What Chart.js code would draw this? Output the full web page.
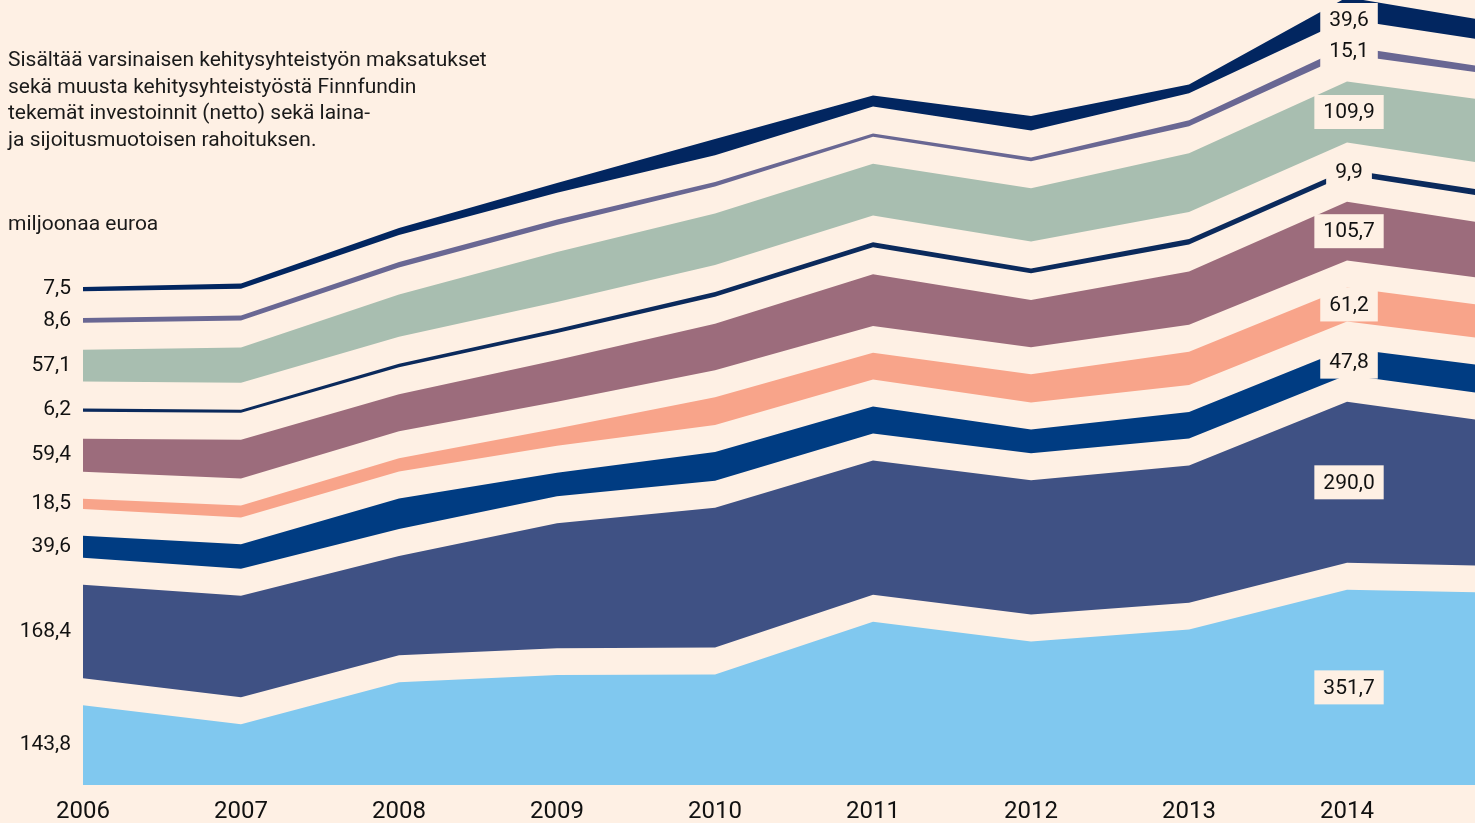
<!DOCTYPE html>
<html lang="fi">
<head>
<meta charset="utf-8">
<script src="https://cdn.jsdelivr.net/npm/chart.js@4.4.1/dist/chart.umd.min.js"></script>
<style>
  html, body { margin: 0; padding: 0; background: #fef0e4; overflow: hidden; }
  #wrap { position: relative; width: 1475px; height: 823px; }
  #chart { position: absolute; left: 0; top: 0; }
  .note {
    position: absolute; left: 8px; margin: 0;
    font-family: Roboto, "Noto Sans", sans-serif; font-size: 21px;
    line-height: 26.5px; color: #1a1a1a; white-space: nowrap;
  }
</style>
</head>
<body>
<div id="wrap">
  <canvas id="chart" width="1475" height="823"></canvas>
  <p class="note" style="top:46px">Sisältää varsinaisen kehitysyhteistyön maksatukset<br>sekä muusta kehitysyhteistyöstä Finnfundin<br>tekemät investoinnit (netto) sekä laina-<br>ja sijoitusmuotoisen rahoituksen.</p>
  <p class="note" style="top:210px">miljoonaa euroa</p>
</div>
<script>
// vuodet (2015 jää kuvan oikean reunan ulkopuolelle)
const YEARS = [2006, 2007, 2008, 2009, 2010, 2011, 2012, 2013, 2014, 2015];
const AXIS_YEARS = [2006, 2007, 2008, 2009, 2010, 2011, 2012, 2013, 2014];

// kerrokset alhaalta ylös, milj. euroa
const S1 = [143.8, 109.5, 185, 198, 199, 294, 258.5, 280, 351.7, 345.9];
const S2 = [168.4, 183, 179, 225, 252, 242, 242, 247, 290.0, 256.4];
const S3 = [39.6, 44, 55, 42.5, 52, 49, 43, 48, 47.8, 51.5];
const S4 = [18.5, 21.5, 24, 31, 50, 48, 51, 60, 61.2, 59.5];
const S5 = [59.4, 70, 67, 75, 84, 93, 85, 96, 105.7, 98.7];
const S6 = [6.2, 5.5, 6.5, 7.5, 8.5, 9, 8.5, 10, 9.9, 11];
const S7 = [57.1, 63.5, 76, 90, 93, 93, 96, 106, 109.9, 114.6];
const S8 = [8.6, 9, 10, 10, 8, 6, 7, 11, 15.1, 10.5];
const S9 = [7.5, 9.5, 13, 17.5, 29, 20, 26, 16, 39.6, 35];

const SERIES = [S1, S2, S3, S4, S5, S6, S7, S8, S9];
const COLORS = ["#80c8ef", "#3f5184", "#003c82", "#f8a48a", "#9c6c7c",
                "#0b2a5c", "#a8beb0", "#696793", "#022660"];

const BG = "#fef0e4";
const GAP = 48.5;       // tyhjä väli kerrosten välissä (samassa yksikössä)
const FONT = "Roboto";

const fmt = v => v.toFixed(1).replace(".", ",");

// pinottu alue, kerrosten väliin läpinäkyvä välikerros
const datasets = [];
SERIES.forEach((vals, i) => {
    if (i > 0) {
        datasets.push({
            data: YEARS.map(x => ({ x: x, y: GAP })),
            isGap: true,
            fill: false,
            borderWidth: 0,
            pointRadius: 0,
        });
    }
    datasets.push({
        data: YEARS.map((x, k) => ({ x: x, y: vals[k] })),
        series: i,
        fill: i === 0 ? "origin" : "-1",
        backgroundColor: COLORS[i],
        borderWidth: 0,
        pointRadius: 0,
    });
});

// arvot vasemmalle (2006) ja laatikoihin (2014)
const bandLabels = {
    id: "bandLabels",
    afterDatasetsDraw(chart) {
        const ctx = chart.ctx;
        const yScale = chart.scales.y;
        ctx.save();
        ctx.font = "21px " + FONT;
        ctx.textBaseline = "middle";
        chart.data.datasets.forEach((ds, di) => {
            if (ds.isGap) return;
            const meta = chart.getDatasetMeta(di);
            const below = di > 0 ? chart.getDatasetMeta(di - 1) : null;
            const vals = SERIES[ds.series];
            const mid = k => {
                const top = meta.data[k].y;
                const bottom = below ? below.data[k].y : yScale.getPixelForValue(0);
                return (top + bottom) / 2;
            };

            // 2006
            ctx.fillStyle = "#111";
            ctx.textAlign = "right";
            ctx.fillText(fmt(vals[0]), 71, mid(0));

            // 2014
            const k = 8;
            const txt = fmt(vals[k]);
            const w = ctx.measureText(txt).width + 18;
            const cx = meta.data[k].x + 2;
            const cy = Math.max(mid(k), 20);
            ctx.fillStyle = BG;
            ctx.fillRect(cx - w / 2, cy - 17, w, 34);
            ctx.fillStyle = "#111";
            ctx.textAlign = "center";
            ctx.fillText(txt, cx, cy + 1);
        });
        ctx.restore();
    },
};

new Chart(document.getElementById("chart"), {
    type: "line",
    data: { datasets: datasets },
    options: {
        responsive: false,
        animation: false,
        layout: { padding: { left: 83, right: 0, top: 0, bottom: 0 } },
        elements: { line: { tension: 0 } },
        scales: {
            x: {
                type: "linear",
                min: 2006,
                max: 2014.81,   // kuva katkeaa ennen vuotta 2015
                grid: { display: false, drawTicks: false },
                border: { display: false },
                ticks: {
                    color: "#111",
                    font: { family: FONT, size: 24 },
                    padding: 13,
                    maxRotation: 0,
                    callback: v => String(v),
                },
                afterBuildTicks: s => { s.ticks = AXIS_YEARS.map(v => ({ value: v })); },
                afterFit: s => { s.height = 38; },
            },
            y: {
                display: false,
                stacked: true,
                min: 0,
                max: 1414,
            },
        },
        plugins: {
            legend: { display: false },
            tooltip: { enabled: false },
        },
    },
    plugins: [bandLabels],
});
</script>
</body>
</html>
